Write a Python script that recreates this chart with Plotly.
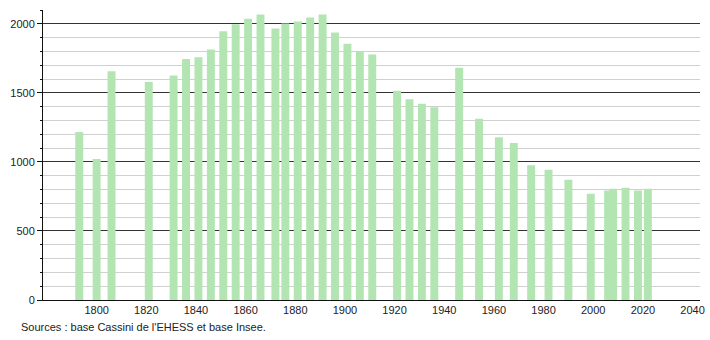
import plotly.graph_objects as go

years = [1793, 1800, 1806, 1821, 1831, 1836, 1841, 1846, 1851, 1856, 1861, 1866,
         1872, 1876, 1881, 1886, 1891, 1896, 1901, 1906, 1911, 1921, 1926, 1931,
         1936, 1946, 1954, 1962, 1968, 1975, 1982, 1990, 1999, 2006, 2008, 2013,
         2018, 2022]
population = [1217, 1021, 1657, 1579, 1625, 1746, 1758, 1814, 1947, 1997, 2036, 2068,
              1966, 2002, 2017, 2046, 2068, 1937, 1855, 1797, 1778, 1516, 1453, 1422,
              1395, 1681, 1313, 1178, 1137, 975, 943, 871, 769, 793, 805, 813,
              793, 805]
x_ticks = list(range(1800, 2041, 20))
source_text = "Sources : base Cassini de l'EHESS et base Insee."

fig = go.Figure()
fig.add_trace(go.Bar(
    x=years, y=population, width=3.2,
    marker=dict(color="#b3e5b3", line=dict(width=0)),
    hoverinfo="x+y",
))

font = dict(family="Liberation Sans, Arial, sans-serif", size=11, color="#222")

fig.update_layout(
    width=710, height=340,
    margin=dict(l=43, r=10, t=10, b=40, autoexpand=False),
    paper_bgcolor="white", plot_bgcolor="white",
    showlegend=False,
    font=font,
    xaxis=dict(
        range=[1778.4, 2043], tickvals=x_ticks, showgrid=False, zeroline=False,
        showline=True, linecolor="#111", linewidth=1, ticks="",
        tickfont=font, fixedrange=True, automargin=False,
    ),
    yaxis=dict(
        range=[0, 2100], dtick=500, tick0=0, showgrid=True, gridcolor="#333",
        gridwidth=1, zeroline=False, showline=True, linecolor="#111", linewidth=1,
        ticks="outside", ticklen=5, tickcolor="#111", tickfont=font,
        minor=dict(dtick=100, ticks="outside", ticklen=2, tickcolor="#111",
                   showgrid=True, gridcolor="#d0d0d0", gridwidth=1),
        fixedrange=True, automargin=False,
    ),
    annotations=[dict(
        text=source_text, xref="paper", yref="paper",
        x=-0.036, y=-0.093, xanchor="left", yanchor="middle",
        showarrow=False, font=dict(family="Liberation Sans, Arial, sans-serif",
                                   size=11, color="#222"),
    )],
)

fig.write_html("out.html")
